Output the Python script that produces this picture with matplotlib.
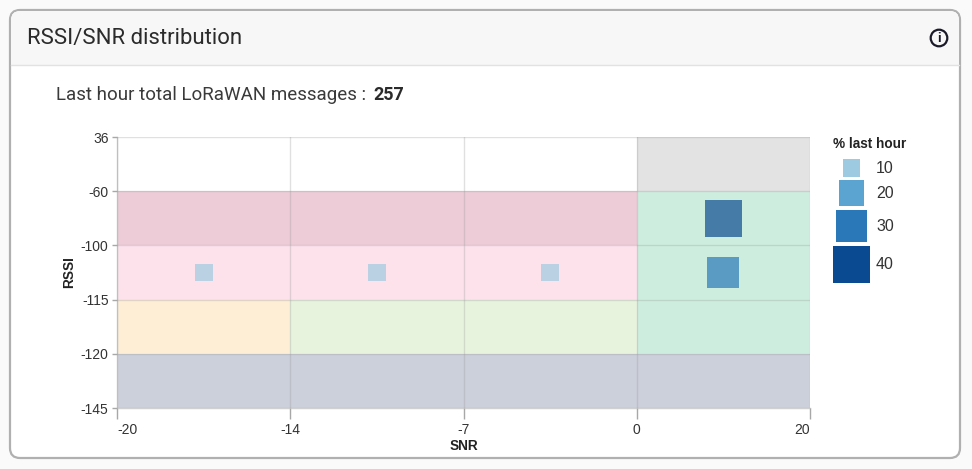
import numpy as np
import matplotlib
matplotlib.use('Agg')
import matplotlib.pyplot as plt
from matplotlib.patches import FancyBboxPatch, Rectangle, Circle

# axis labels
snr_ticks = ['-20', '-14', '-7', '0', '20']
rssi_ticks = ['-145', '-120', '-115', '-100', '-60', '36']

# quality zones, rows from bottom (-145) to top (36), columns -20..-14..-7..0..20
zone_colors = [
    ['#ccd0da', '#ccd0da', '#ccd0da', '#ccd0da'],
    ['#feeed6', '#e8f3de', '#e8f3de', '#cdeede'],
    ['#fde2ec', '#fde2ec', '#fde2ec', '#cdeede'],
    ['#edcbd7', '#edcbd7', '#edcbd7', '#cdeede'],
    ['#ffffff', '#ffffff', '#ffffff', '#e3e3e3'],
]

# messages, given as band index on each axis
point_snr = [0.5, 1.5, 2.5, 3.5, 3.5]
point_rssi = [2.5, 2.5, 2.5, 2.5, 3.5]
point_pct = [10, 10, 10, 30, 40]

legend_pct = [10, 20, 30, 40]
legend_colors = ['#9ecae1', '#5ba3d0', '#2a78b8', '#0a4a90']


def side_px(pct):
    return np.sqrt(35.0 * np.asarray(pct, dtype=float) - 30.0)


def color_for(pct):
    return legend_colors[legend_pct.index(pct)]


W, H = 972, 469
fig = plt.figure(figsize=(W / 100, H / 100), dpi=100)
fig.patch.set_facecolor('#fafafa')
px2 = (72.0 / 100.0) ** 2

# card background, in pixels
bg = fig.add_axes([0, 0, 1, 1])
bg.set_xlim(0, W)
bg.set_ylim(H, 0)
bg.axis('off')
bg.add_patch(FancyBboxPatch((10, 10), 950, 448, boxstyle='round,pad=0,rounding_size=10',
                            fc='white', ec='#b0b0b0', lw=1.6))
header = FancyBboxPatch((11, 11), 948, 54, boxstyle='round,pad=0,rounding_size=9',
                        fc='#f7f7f7', ec='none')
bg.add_patch(header)
bg.add_patch(Rectangle((11, 40), 948, 25, fc='#f7f7f7', ec='none'))
bg.plot([11, 959], [65, 65], color='#e2e2e2', lw=1)
bg.text(27, 38.5, 'RSSI/SNR distribution', family='Roboto', fontsize=15.9,
        color='#2b2b2b', va='center', ha='left')
bg.text(56, 95, 'Last hour total LoRaWAN messages : ', family='Roboto', fontsize=13.5,
        color='#3a3a3a', va='center', ha='left')
bg.text(373, 95, '257', family='Roboto', fontsize=13, fontweight='bold',
        color='#2b2b2b', va='center', ha='left')
bg.add_patch(Circle((939, 38), 8.3, fc='none', ec='#1a1a2a', lw=1.6))
bg.text(939, 38.5, 'i', family='Roboto', fontsize=9.5, fontweight='bold',
        color='#1a1a2a', va='center', ha='center')

# chart
ax = fig.add_axes([117 / W, 1 - 408 / H, 693 / W, 271 / H])
ax.patch.set_alpha(0)
for r, row in enumerate(zone_colors):
    ax.bar(np.arange(4) + 0.5, 1, width=1, bottom=r, color=row, linewidth=0, zorder=1)
ax.set_xlim(0, 4)
ax.set_ylim(0, 5)
ax.set_xticks(np.arange(5))
ax.set_yticks(np.arange(6))
ax.set_xticklabels(snr_ticks, family='Liberation Sans', fontsize=10, color='#333333')
ax.set_yticklabels(rssi_ticks, family='Liberation Sans', fontsize=10, color='#333333')
ax.get_xticklabels()[0].set_ha('left')
ax.get_xticklabels()[-1].set_ha('right')
ax.tick_params(axis='x', length=8, width=1, color='#a8a8a8', pad=3)
ax.tick_params(axis='y', length=3.6, width=1, color='#a8a8a8', pad=2.5)
ax.grid(True, color='#9a9a9a', alpha=0.3, lw=1, zorder=2)
ax.set_axisbelow(False)
for name in ['top', 'right']:
    ax.spines[name].set_visible(False)
for name in ['left', 'bottom']:
    ax.spines[name].set_color('#d0d0d0')
    ax.spines[name].set_linewidth(1)
ax.set_xlabel('SNR', family='Liberation Sans', fontsize=9.8, fontweight='bold',
              color='#222222')
ax.set_ylabel('RSSI', family='Liberation Sans', fontsize=9.8, fontweight='bold',
              color='#222222')
ax.xaxis.set_label_coords(0.5, -31 / 271)
ax.yaxis.set_label_coords(-41 / 693, 0.5)
ax.scatter(point_snr, point_rssi, s=side_px(point_pct) ** 2 * px2, marker='s',
           c=[color_for(p) for p in point_pct], alpha=0.7, linewidths=0, zorder=4,
           clip_on=False)

# size legend, stacked by marker size
bg.text(833, 144, '% last hour', family='Liberation Sans', fontsize=9.8, fontweight='bold',
        color='#222222', va='center', ha='left')
sides = side_px(legend_pct)
gap = 3.6
tops = 159 + np.concatenate(([0], np.cumsum(sides[:-1] + gap)))
centers = tops + sides / 2
bg.scatter([851.5] * len(legend_pct), centers, s=sides ** 2 * px2, marker='s',
           c=legend_colors, linewidths=0, zorder=3)
for c, p in zip(centers, legend_pct):
    bg.text(876, c + 0.5, str(p), family='Liberation Sans', fontsize=11.5, color='#333333',
            va='center', ha='left')

fig.savefig('out.png', dpi=100, facecolor=fig.get_facecolor())
